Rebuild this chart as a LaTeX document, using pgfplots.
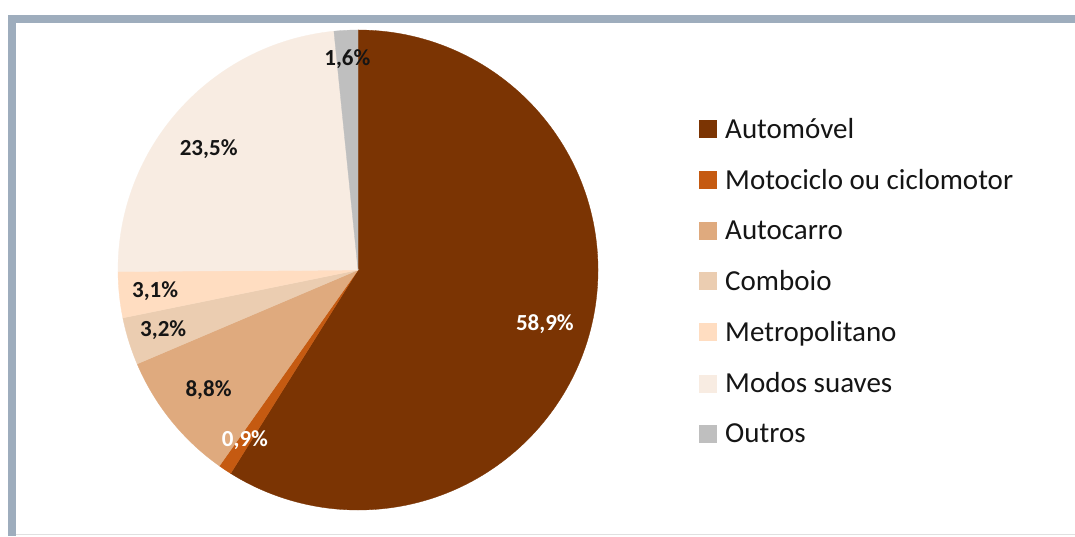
\documentclass[border=0pt]{standalone}
\usepackage{pgfplots}
\pgfplotsset{compat=1.18}
\usepackage{pgfplotstable}
\usepackage{fontspec}
\setmainfont{Carlito}
\definecolor{pie0}{HTML}{7B3403}
\definecolor{pie1}{HTML}{C55A11}
\definecolor{pie2}{HTML}{DFAA7E}
\definecolor{pie3}{HTML}{EBCDB1}
\definecolor{pie4}{HTML}{FFDDC1}
\definecolor{pie5}{HTML}{F8ECE2}
\definecolor{pie6}{HTML}{BFBFBF}
\definecolor{framecol}{HTML}{9EADBD}
\definecolor{txtcol}{HTML}{151515}
\newcommand\labelfont{\fontsize{23}{27}\selectfont\bfseries}
\pgfplotsset{sqlegend/.style={legend image code/.code={\fill[##1] (0pt,-9pt) rectangle (18pt,9pt); \path (21pt,0pt);}}}

\pgfplotstableread[col sep=comma]{
name,value,lr,lc,da
Automóvel,58.9,0.81,white,0
Motociclo ou ciclomotor,0.9,0.85,white,0
Autocarro,8.8,0.80,txtcol,0
Comboio,3.2,0.85,txtcol,0
Metropolitano,3.1,0.85,txtcol,0
Modos suaves,23.5,0.80,txtcol,3
Outros,1.6,0.88,txtcol,0
}\piedata

\begin{document}
\begin{tikzpicture}
\useasboundingbox (0,0) rectangle (1075pt,536pt);
\fill[white] (0,0) rectangle (1075pt,536pt);
\fill[framecol] (8pt,0pt) rectangle (16pt,521pt);
\fill[framecol] (8pt,513pt) rectangle (1075pt,521pt);
\fill[black!12] (16pt,1pt) rectangle (1075pt,2.5pt);
\begin{axis}[
  at={(0pt,0pt)}, anchor=south west,
  width=1075pt, height=536pt, scale only axis,
  xmin=0, xmax=1075, ymin=0, ymax=536,
  hide axis, clip=false,
  legend style={at={(axis cs:699,422)}, anchor=north west, draw=none, fill=none,
    inner sep=0pt, row sep=21.6pt, font=\fontsize{29}{34}\selectfont\color{txtcol},
    nodes={inner ysep=4pt, inner xsep=5pt}},
  legend cell align=left,
]
\def\cum{0}
\pgfplotsforeachungrouped \i in {0,...,6}{%
  \pgfplotstablegetelem{\i}{value}\of\piedata \let\pv\pgfplotsretval
  \pgfplotstablegetelem{\i}{name}\of\piedata \let\pn\pgfplotsretval
  \pgfmathsetmacro\pa{90-3.6*\cum}%
  \pgfmathsetmacro\pb{90-3.6*(\cum+\pv)}%
  \edef\cmd{%
    \noexpand\fill[pie\i,draw=pie\i,line width=0.3pt] (axis cs:358,266) -- ++(\pa:240pt) arc[start angle=\pa,end angle=\pb,radius=240pt] -- cycle;
    \noexpand\addlegendimage{sqlegend,fill=pie\i,draw=none}
    \noexpand\addlegendentry{\pn}
  }\cmd
  \pgfmathsetmacro\cum{\cum+\pv}%
}
\def\cum{0}
\pgfplotsforeachungrouped \i in {0,...,6}{%
  \pgfplotstablegetelem{\i}{value}\of\piedata \let\pv\pgfplotsretval
  \pgfplotstablegetelem{\i}{lr}\of\piedata \let\plr\pgfplotsretval
  \pgfplotstablegetelem{\i}{lc}\of\piedata \let\plc\pgfplotsretval
  \pgfplotstablegetelem{\i}{da}\of\piedata \let\pda\pgfplotsretval
  \pgfmathsetmacro\pa{90-3.6*\cum}%
  \pgfmathsetmacro\pb{90-3.6*(\cum+\pv)}%
  \pgfmathsetmacro\pm{(\pa+\pb)/2+\pda}%
  \pgfmathsetmacro\prr{240*\plr}%
  \pgfmathsetmacro\lx{358+\prr*cos(\pm)}%
  \pgfmathsetmacro\ly{266+\prr*sin(\pm)}%
  \edef\cmd{%
    \noexpand\node[text=\plc,font=\noexpand\labelfont] at (axis cs:\lx,\ly) {\noexpand\pgfmathprintnumber[fixed,fixed zerofill,precision=1,use comma,assume math mode=true]{\pv}\noexpand\%};
  }\cmd
  \pgfmathsetmacro\cum{\cum+\pv}%
}
\end{axis}
\end{tikzpicture}
\end{document}
